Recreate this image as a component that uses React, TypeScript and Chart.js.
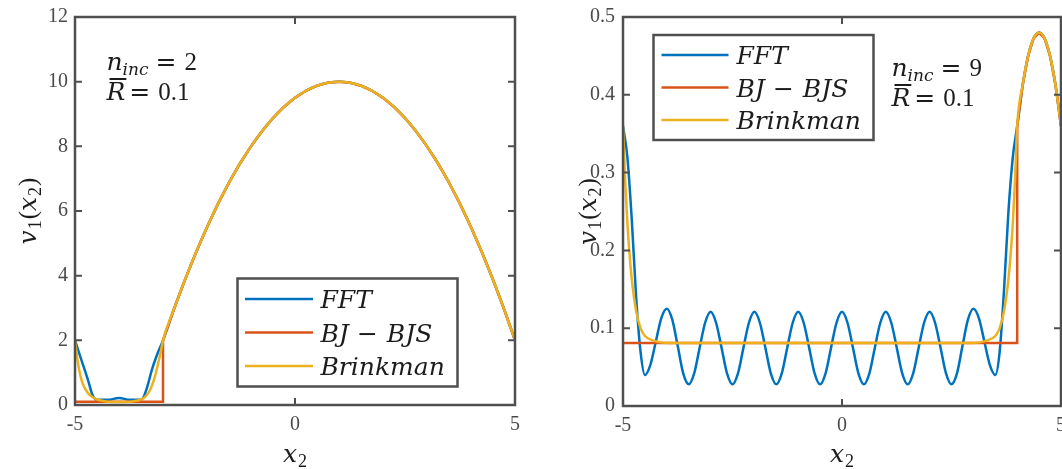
import React, { useEffect, useRef } from "react";
import { Chart, registerables } from "chart.js";

Chart.register(...registerables);

// ---------------- data ----------------
const X_MIN = -5;
const X_MAX = 5;
const X_STEP = 5;
const SERIES_LABELS = ["FFT", "BJ − BJS", "Brinkman"];

// Left panel (n_inc = 2)
const L_Y_MAX = 12;
const L_Y_STEP = 2;
const L_N_INC = "2";
const L_R_BAR = "0.1";
const L_FLUID_X = [-3, -2.75, -2.5, -2.25, -2, -1.75, -1.5, -1.25, -1, -0.75, -0.5, -0.25, 0, 0.25, 0.5, 0.75, 1, 1.25, 1.5, 1.75, 2, 2.25, 2.5, 2.75, 3, 3.25, 3.5, 3.75, 4, 4.25, 4.5, 4.75, 5];
const L_FLUID_V = [2, 2.969, 3.875, 4.719, 5.5, 6.219, 6.875, 7.469, 8, 8.469, 8.875, 9.219, 9.5, 9.719, 9.875, 9.969, 10, 9.969, 9.875, 9.719, 9.5, 9.219, 8.875, 8.469, 8, 7.469, 6.875, 6.219, 5.5, 4.719, 3.875, 2.969, 2];
const L_FFT_POROUS_X = [-5, -4.9, -4.8, -4.7, -4.6, -4.5, -4.25, -4, -3.75, -3.5, -3.45, -3.35, -3.25, -3.15];
const L_FFT_POROUS_V = [2, 1.58, 1.17, 0.75, 0.3, 0.16, 0.16, 0.22, 0.16, 0.17, 0.22, 0.6, 1.1, 1.5];
const L_BJ_POROUS_X = [-5, -3, -3];
const L_BJ_POROUS_V = [0.1, 0.1, 2];
const L_BRINK_POROUS_X = [-5, -4.95, -4.9, -4.85, -4.8, -4.7, -4.6, -4.5, -4.3, -4, -3.7, -3.5, -3.4, -3.3, -3.2, -3.15, -3.1, -3.05];
const L_BRINK_POROUS_V = [2, 1.45, 1.05, 0.77, 0.58, 0.36, 0.24, 0.17, 0.11, 0.09, 0.11, 0.17, 0.26, 0.45, 0.8, 1.05, 1.35, 1.65];

// Right panel (n_inc = 9)
const R_Y_MAX = 0.5;
const R_Y_STEP = 0.1;
const R_N_INC = "9";
const R_R_BAR = "0.1";
const R_FLUID_X = [4, 4.125, 4.25, 4.375, 4.5, 4.625, 4.75, 4.875, 5];
const R_FLUID_V = [0.36, 0.4125, 0.45, 0.4725, 0.48, 0.4725, 0.45, 0.4125, 0.36];
const R_FFT_POROUS_X = [
  -5, -4.9, -4.8, -4.7, -4.6,
  -4.5, -4.375, -4.25, -4.125, -4, -3.875, -3.75, -3.625,
  -3.5, -3.375, -3.25, -3.125, -3, -2.875, -2.75, -2.625,
  -2.5, -2.375, -2.25, -2.125, -2, -1.875, -1.75, -1.625,
  -1.5, -1.375, -1.25, -1.125, -1, -0.875, -0.75, -0.625,
  -0.5, -0.375, -0.25, -0.125, 0, 0.125, 0.25, 0.375,
  0.5, 0.625, 0.75, 0.875, 1, 1.125, 1.25, 1.375,
  1.5, 1.625, 1.75, 1.875, 2, 2.125, 2.25, 2.375,
  2.5, 2.625, 2.75, 2.875, 3, 3.125, 3.25, 3.375,
  3.5, 3.6, 3.7, 3.8, 3.9,
];
const R_FFT_POROUS_V = [
  0.36, 0.32, 0.24, 0.14, 0.07,
  0.04, 0.053, 0.083, 0.113, 0.125, 0.111, 0.077, 0.042,
  0.028, 0.042, 0.075, 0.107, 0.121, 0.107, 0.075, 0.042,
  0.028, 0.042, 0.075, 0.107, 0.121, 0.107, 0.075, 0.042,
  0.028, 0.042, 0.075, 0.107, 0.121, 0.107, 0.075, 0.042,
  0.028, 0.042, 0.075, 0.107, 0.121, 0.107, 0.075, 0.042,
  0.028, 0.042, 0.075, 0.107, 0.121, 0.107, 0.075, 0.042,
  0.028, 0.042, 0.075, 0.107, 0.121, 0.107, 0.075, 0.042,
  0.028, 0.042, 0.077, 0.111, 0.125, 0.113, 0.083, 0.053,
  0.04, 0.07, 0.15, 0.25, 0.32,
];
const R_BJ_POROUS_X = [-5, 4, 4];
const R_BJ_POROUS_V = [0.081, 0.081, 0.36];
const R_BRINK_POROUS_X = [-5, -4.95, -4.9, -4.85, -4.8, -4.7, -4.6, -4.5, -4.3, -4, -3, -2, -1, 0, 1, 2, 3, 3.3, 3.5, 3.6, 3.7, 3.8, 3.85, 3.9, 3.95];
const R_BRINK_POROUS_V = [0.36, 0.29, 0.235, 0.195, 0.163, 0.122, 0.1, 0.09, 0.084, 0.081, 0.081, 0.081, 0.081, 0.081, 0.081, 0.081, 0.081, 0.084, 0.09, 0.1, 0.122, 0.163, 0.195, 0.235, 0.29];

// ---------------- styles ----------------
const COLORS = ["#0072BD", "#D95319", "#EDB120"];
const AXIS_COLOR = "#4f4f4f";
const TICK_COLOR = "#4a4a4a";
const TEXT_COLOR = "#1c1c1c";
const IT = 'italic 25px "DejaVu Serif"';
const IT_SUB = 'italic 17px "DejaVu Serif"';
const UP = '25px "Liberation Serif"';
const UP_SUB = '18px "Liberation Serif"';
const SYM = '25px "DejaVu Serif"';

type Seg = { t: string; f: string; gap?: number; dy?: number; bar?: boolean };

function segsWidth(ctx: CanvasRenderingContext2D, segs: Seg[]) {
  let w = 0;
  for (const s of segs) {
    ctx.font = s.f;
    w += (s.gap || 0) + ctx.measureText(s.t).width;
  }
  return w;
}

function drawSegs(ctx: CanvasRenderingContext2D, segs: Seg[], x: number, y: number) {
  let cx = x;
  for (const s of segs) {
    ctx.font = s.f;
    cx += s.gap || 0;
    const w = ctx.measureText(s.t).width;
    ctx.fillText(s.t, cx, y + (s.dy || 0));
    if (s.bar) ctx.fillRect(cx + 3, y - 22, w - 2, 2);
    cx += w;
  }
}

function pts(xs: number[], vs: number[]) {
  return xs.map((x, i) => ({ x, y: vs[i] }));
}

type PanelSpec = {
  id: string;
  yMax: number;
  yStep: number;
  nInc: string;
  rBar: string;
  fft: { x: number; y: number }[];
  bj: { x: number; y: number }[];
  brink: { x: number; y: number }[];
  width: number;
  pad: { left: number; right: number; top: number };
  yAxisWidth: number;
  xAxisHeight: number;
  yTickPad: number;
  legend: { x: number; y: number; w: number; h: number; l0: number; l1: number; tx: number; rows: number[] };
  ann: { x: number; b1: number; b2: number };
  yTitleX: number;
  xTitleY: number;
};

function legendSegs(label: string): Seg[] {
  const parts = label.split(" − ");
  const segs: Seg[] = [];
  parts.forEach((p, i) => {
    if (i > 0) segs.push({ t: "−", f: SYM, gap: 8 });
    segs.push({ t: p, f: IT, gap: i > 0 ? 9 : 0 });
  });
  return segs;
}

function makeConfig(spec: PanelSpec): any {
  const decor = {
    id: "decor" + spec.id,
    afterDraw(chart: any) {
      const ctx: CanvasRenderingContext2D = chart.ctx;
      const { left, right, top, bottom } = chart.chartArea;
      const xs = chart.scales.x;
      const ys = chart.scales.y;
      ctx.save();
      // axes box
      ctx.strokeStyle = AXIS_COLOR;
      ctx.lineWidth = 2.5;
      ctx.strokeRect(left, top, right - left, bottom - top);
      // inward ticks (mirrored)
      const TL = 7;
      ctx.lineWidth = 2;
      ctx.beginPath();
      xs.ticks.forEach((t: any) => {
        const px = xs.getPixelForValue(t.value);
        ctx.moveTo(px, bottom);
        ctx.lineTo(px, bottom - TL);
        ctx.moveTo(px, top);
        ctx.lineTo(px, top + TL);
      });
      ys.ticks.forEach((t: any) => {
        const py = ys.getPixelForValue(t.value);
        ctx.moveTo(left, py);
        ctx.lineTo(left + TL, py);
        ctx.moveTo(right, py);
        ctx.lineTo(right - TL, py);
      });
      ctx.stroke();

      // legend
      const L = spec.legend;
      ctx.fillStyle = "#ffffff";
      ctx.fillRect(L.x, L.y, L.w, L.h);
      ctx.strokeStyle = AXIS_COLOR;
      ctx.lineWidth = 2.5;
      ctx.strokeRect(L.x, L.y, L.w, L.h);
      chart.data.datasets.forEach((ds: any, i: number) => {
        const ry = L.rows[i];
        ctx.strokeStyle = ds.borderColor;
        ctx.lineWidth = 2.5;
        ctx.beginPath();
        ctx.moveTo(L.l0, ry);
        ctx.lineTo(L.l1, ry);
        ctx.stroke();
        ctx.fillStyle = TEXT_COLOR;
        ctx.textBaseline = "alphabetic";
        ctx.textAlign = "left";
        drawSegs(ctx, legendSegs(ds.label), L.tx, ry + 9);
      });

      // annotation
      ctx.fillStyle = TEXT_COLOR;
      ctx.textAlign = "left";
      ctx.textBaseline = "alphabetic";
      drawSegs(
        ctx,
        [
          { t: "n", f: IT },
          { t: "inc", f: IT_SUB, dy: 5, gap: 0 },
          { t: "=", f: SYM, gap: 7 },
          { t: spec.nInc, f: UP, gap: 8 },
        ],
        spec.ann.x,
        spec.ann.b1
      );
      drawSegs(
        ctx,
        [
          { t: "R", f: IT, bar: true },
          { t: "=", f: SYM, gap: 4 },
          { t: spec.rBar, f: UP, gap: 8 },
        ],
        spec.ann.x,
        spec.ann.b2
      );

      // x title
      const xt: Seg[] = [
        { t: "x", f: IT },
        { t: "2", f: UP_SUB, dy: 5, gap: 1 },
      ];
      const xw = segsWidth(ctx, xt);
      drawSegs(ctx, xt, (left + right) / 2 - xw / 2, spec.xTitleY);

      // y title (rotated)
      const yt: Seg[] = [
        { t: "v", f: IT },
        { t: "1", f: UP_SUB, dy: 5, gap: 1 },
        { t: "(", f: UP, gap: 1 },
        { t: "x", f: IT },
        { t: "2", f: UP_SUB, dy: 5, gap: 1 },
        { t: ")", f: UP, gap: 1 },
      ];
      const yw = segsWidth(ctx, yt);
      ctx.save();
      ctx.translate(spec.yTitleX, (top + bottom) / 2);
      ctx.rotate(-Math.PI / 2);
      drawSegs(ctx, yt, -yw / 2, 0);
      ctx.restore();

      ctx.restore();
    },
  };

  const lineBase = {
    pointRadius: 0,
    borderWidth: 2.5,
    fill: false,
  };

  return {
    type: "line",
    data: {
      datasets: [
        { ...lineBase, label: SERIES_LABELS[0], data: spec.fft, borderColor: COLORS[0], backgroundColor: COLORS[0], cubicInterpolationMode: "monotone", order: 3 },
        { ...lineBase, label: SERIES_LABELS[1], data: spec.bj, borderColor: COLORS[1], backgroundColor: COLORS[1], tension: 0, order: 2 },
        { ...lineBase, label: SERIES_LABELS[2], data: spec.brink, borderColor: COLORS[2], backgroundColor: COLORS[2], cubicInterpolationMode: "monotone", order: 1 },
      ],
    },
    options: {
      animation: false,
      responsive: false,
      maintainAspectRatio: false,
      devicePixelRatio: 1,
      layout: { padding: { left: spec.pad.left, right: spec.pad.right, top: spec.pad.top, bottom: 0 } },
      plugins: { legend: { display: false }, tooltip: { enabled: false }, title: { display: false } },
      scales: {
        x: {
          type: "linear",
          min: X_MIN,
          max: X_MAX,
          grid: { display: false, drawTicks: false },
          border: { display: false },
          ticks: {
            stepSize: X_STEP,
            autoSkip: false,
            maxRotation: 0,
            padding: 8,
            color: TICK_COLOR,
            font: { family: "Liberation Serif", size: 20 },
          },
          afterFit: (s: any) => {
            s.height = spec.xAxisHeight;
            s.paddingLeft = 0;
            s.paddingRight = 0;
          },
        },
        y: {
          type: "linear",
          min: 0,
          max: spec.yMax,
          grid: { display: false, drawTicks: false },
          border: { display: false },
          ticks: {
            stepSize: spec.yStep,
            autoSkip: false,
            padding: spec.yTickPad,
            color: TICK_COLOR,
            font: { family: "Liberation Serif", size: 20 },
          },
          afterFit: (s: any) => {
            s.width = spec.yAxisWidth;
            s.paddingTop = 0;
            s.paddingBottom = 0;
          },
        },
      },
    },
    plugins: [decor],
  };
}

const LEFT_SPEC: PanelSpec = {
  id: "L",
  yMax: L_Y_MAX,
  yStep: L_Y_STEP,
  nInc: L_N_INC,
  rBar: L_R_BAR,
  fft: pts([...L_FFT_POROUS_X, ...L_FLUID_X], [...L_FFT_POROUS_V, ...L_FLUID_V]),
  bj: pts([...L_BJ_POROUS_X, ...L_FLUID_X], [...L_BJ_POROUS_V, ...L_FLUID_V]),
  brink: pts([...L_BRINK_POROUS_X, ...L_FLUID_X], [...L_BRINK_POROUS_V, ...L_FLUID_V]),
  width: 560,
  pad: { left: 0, right: 45, top: 17 },
  yAxisWidth: 75,
  xAxisHeight: 64,
  yTickPad: 7,
  legend: { x: 237.5, y: 278.5, w: 220, h: 108, l0: 245, l1: 313, tx: 320.5, rows: [299, 332.5, 366] },
  ann: { x: 106.5, b1: 70, b2: 100 },
  yTitleX: 36,
  xTitleY: 462,
};

const RIGHT_SPEC: PanelSpec = {
  id: "R",
  yMax: R_Y_MAX,
  yStep: R_Y_STEP,
  nInc: R_N_INC,
  rBar: R_R_BAR,
  fft: pts([...R_FFT_POROUS_X, ...R_FLUID_X], [...R_FFT_POROUS_V, ...R_FLUID_V]),
  bj: pts([...R_BJ_POROUS_X, ...R_FLUID_X], [...R_BJ_POROUS_V, ...R_FLUID_V]),
  brink: pts([...R_BRINK_POROUS_X, ...R_FLUID_X], [...R_BRINK_POROUS_V, ...R_FLUID_V]),
  width: 502,
  pad: { left: 0, right: 1, top: 17 },
  yAxisWidth: 63,
  xAxisHeight: 63,
  yTickPad: 8,
  legend: { x: 93.5, y: 35, w: 220, h: 105, l0: 101.5, l1: 168.5, tx: 176.5, rows: [55, 87.5, 120] },
  ann: { x: 331.5, b1: 76, b2: 106 },
  yTitleX: 36,
  xTitleY: 462,
};

function Panel({ spec, left }: { spec: PanelSpec; left: number }) {
  const ref = useRef<HTMLCanvasElement>(null);
  useEffect(() => {
    if (!ref.current) return;
    const chart = new Chart(ref.current, makeConfig(spec));
    return () => chart.destroy();
  }, [spec]);
  return (
    <div style={{ position: "absolute", left, top: 0, width: spec.width, height: 469 }}>
      <canvas ref={ref} width={spec.width} height={469} style={{ display: "block", width: spec.width, height: 469 }} />
    </div>
  );
}

export default function App() {
  return (
    <div style={{ position: "absolute", left: 0, top: 0, width: 1062, height: 469, background: "#fff", overflow: "hidden" }}>
      <Panel spec={LEFT_SPEC} left={0} />
      <Panel spec={RIGHT_SPEC} left={560} />
    </div>
  );
}
